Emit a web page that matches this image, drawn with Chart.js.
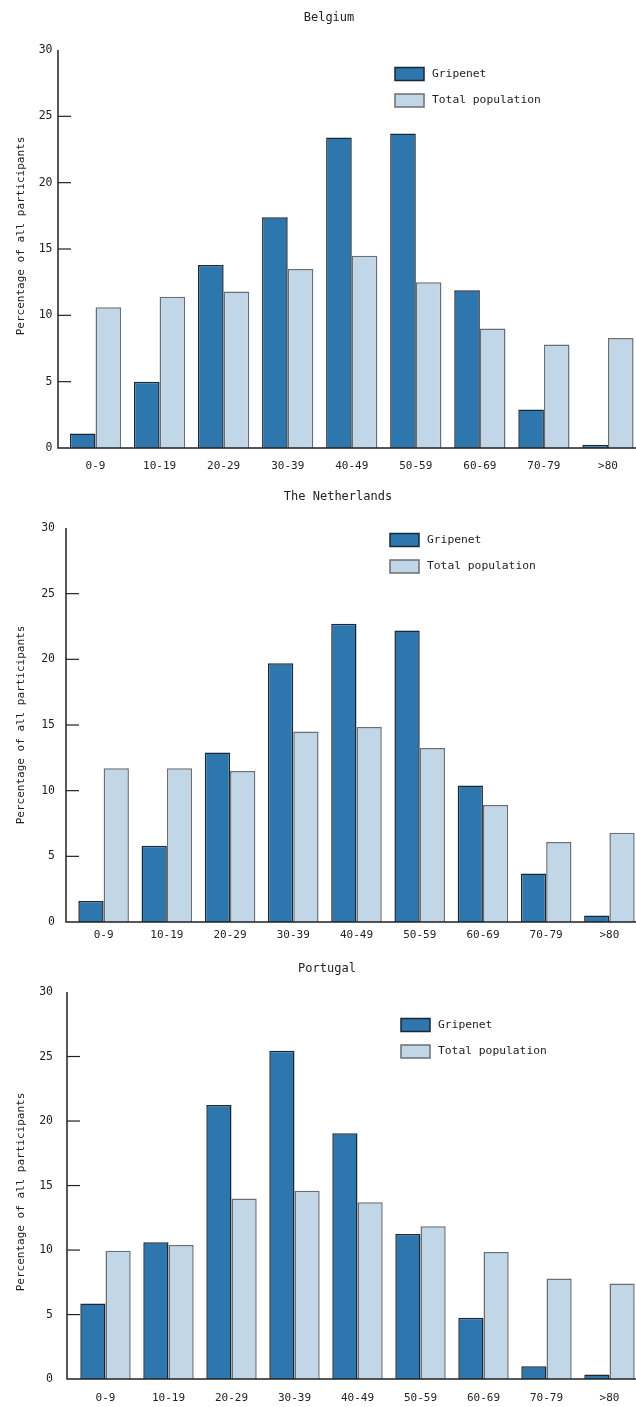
<!DOCTYPE html>
<html>
<head>
<meta charset="utf-8">
<script src="https://cdn.jsdelivr.net/npm/chart.js@4"></script>
<style>
  html, body { margin: 0; padding: 0; background: #fff; overflow: hidden; }
  #page { position: relative; width: 636px; height: 1407px; overflow: hidden; }
  .box { position: absolute; left: 0; }
</style>
</head>
<body>
<div id="page">
  <div class="box" style="top:0"><canvas id="chartBelgium"></canvas></div>
  <div class="box" style="top:476px"><canvas id="chartNetherlands"></canvas></div>
  <div class="box" style="top:952px"><canvas id="chartPortugal"></canvas></div>
</div>
<script>
// data
const ageGroups = ['0-9', '10-19', '20-29', '30-39', '40-49', '50-59', '60-69', '70-79', '>80'];
const seriesNames = ['Gripenet', 'Total population'];
const yMax = 30;
const yStep = 5;

const belgiumGripenet = [1.1, 5.0, 13.8, 17.4, 23.4, 23.7, 11.9, 2.9, 0.25];
const belgiumTotal = [10.6, 11.4, 11.8, 13.5, 14.5, 12.5, 9.0, 7.8, 8.3];

const netherlandsGripenet = [1.6, 5.8, 12.9, 19.7, 22.7, 22.2, 10.4, 3.7, 0.5];
const netherlandsTotal = [11.7, 11.7, 11.5, 14.5, 14.85, 13.25, 8.9, 6.1, 6.8];

const portugalGripenet = [5.85, 10.6, 21.25, 25.45, 19.05, 11.25, 4.75, 1.0, 0.35];
const portugalTotal = [9.95, 10.4, 14.0, 14.6, 13.7, 11.85, 9.85, 7.8, 7.4];

const FONT = "'DejaVu Sans Mono', monospace";
const INK = '#222';

// axes, title, legend and y title drawn on the canvas
const framePlugin = {
    id: 'frame',
    afterDatasetsDraw(chart) {
        const o = chart.options.plugins.frame;
        const { ctx, chartArea } = chart;
        const y = chart.scales.y;
        const ax = chartArea.left - o.axisGap;
        const y0 = y.getPixelForValue(0);
        const yTop = y.getPixelForValue(yMax);

        ctx.save();
        ctx.strokeStyle = INK;
        ctx.lineWidth = 1.5;
        ctx.beginPath();
        ctx.moveTo(ax, yTop);
        ctx.lineTo(ax, y0);
        ctx.lineTo(chartArea.right + 10, y0);
        ctx.stroke();

        ctx.lineWidth = 1.2;
        y.ticks.forEach(t => {
            if (t.value <= 0 || t.value >= yMax) return;
            const py = y.getPixelForValue(t.value);
            ctx.beginPath();
            ctx.moveTo(ax, py);
            ctx.lineTo(ax + 13, py);
            ctx.stroke();
        });
        ctx.restore();
    },
    afterDraw(chart) {
        const o = chart.options.plugins.frame;
        const { ctx } = chart;
        ctx.save();
        ctx.fillStyle = INK;
        ctx.textBaseline = 'middle';

        // title
        ctx.font = '12px ' + FONT;
        ctx.textAlign = 'center';
        ctx.fillText(o.title, o.titleX, o.titleY);

        // y axis title
        ctx.font = '11px ' + FONT;
        ctx.save();
        ctx.translate(o.yTitleX, o.yTitleY);
        ctx.rotate(-Math.PI / 2);
        ctx.fillText('Percentage of all participants', 0, 0);
        ctx.restore();

        // legend
        ctx.font = '11.3px ' + FONT;
        ctx.textAlign = 'left';
        chart.data.datasets.forEach((ds, i) => {
            const cy = o.legendY + i * 26.5;
            ctx.fillStyle = ds.backgroundColor;
            ctx.fillRect(o.legendX, cy - 6.5, 29, 13);
            ctx.strokeStyle = ds.borderColor;
            ctx.lineWidth = 1.5;
            ctx.strokeRect(o.legendX, cy - 6.5, 29, 13);
            ctx.fillStyle = INK;
            ctx.fillText(ds.label, o.legendX + 37, cy);
        });
        ctx.restore();
    }
};

function drawCountry(canvasId, gripenet, total, f) {
    const canvas = document.getElementById(canvasId);
    canvas.width = f.width;
    canvas.height = f.height;
    canvas.style.width = f.width + 'px';
    canvas.style.height = f.height + 'px';

    return new Chart(canvas.getContext('2d'), {
        type: 'bar',
        data: {
            labels: ageGroups,
            datasets: [{
                label: seriesNames[0],
                data: gripenet,
                backgroundColor: '#2d76ae',
                borderColor: '#1b2733',
                borderWidth: 1.5,
                borderSkipped: 'bottom'
            }, {
                label: seriesNames[1],
                data: total,
                backgroundColor: '#c1d7e7',
                borderColor: '#6b6e72',
                borderWidth: 1.5,
                borderSkipped: 'bottom'
            }]
        },
        plugins: [framePlugin],
        options: {
            responsive: false,
            animation: false,
            devicePixelRatio: 1,
            layout: {
                padding: { top: f.top, left: 0, right: 0, bottom: f.height - f.bottom - f.xHeight }
            },
            datasets: {
                bar: { categoryPercentage: 0.8, barPercentage: 1.0 }
            },
            scales: {
                x: {
                    offset: true,
                    grid: { display: false, drawTicks: false },
                    border: { display: false },
                    ticks: {
                        color: INK,
                        font: { family: FONT, size: 11 },
                        padding: f.xPad,
                        maxRotation: 0,
                        autoSkip: false
                    },
                    afterFit(scale) { scale.height = f.xHeight; }
                },
                y: {
                    min: 0,
                    max: yMax,
                    grid: { display: false, drawTicks: false },
                    border: { display: false },
                    ticks: {
                        stepSize: yStep,
                        color: INK,
                        font: { family: FONT, size: 11.5 },
                        padding: f.yPad
                    },
                    afterFit(scale) { scale.width = f.left; }
                }
            },
            plugins: {
                legend: { display: false },
                tooltip: { enabled: false },
                frame: f
            }
        }
    });
}

drawCountry('chartBelgium', belgiumGripenet, belgiumTotal, {
    title: 'Belgium', titleX: 329, titleY: 18,
    width: 640, height: 476, left: 63.5, top: 50, bottom: 448, xHeight: 28,
    xPad: 12, yPad: 11, axisGap: 5.5,
    yTitleX: 21, yTitleY: 236,
    legendX: 395, legendY: 74
});

drawCountry('chartNetherlands', netherlandsGripenet, netherlandsTotal, {
    title: 'The Netherlands', titleX: 338, titleY: 21,
    width: 641, height: 476, left: 72, top: 52, bottom: 446, xHeight: 28,
    xPad: 7, yPad: 17, axisGap: 6,
    yTitleX: 21, yTitleY: 249,
    legendX: 390, legendY: 64
});

drawCountry('chartPortugal', portugalGripenet, portugalTotal, {
    title: 'Portugal', titleX: 327, titleY: 17,
    width: 641, height: 455, left: 74, top: 40, bottom: 432, xHeight: 23,
    xPad: 12, yPad: 21, axisGap: 7,
    yTitleX: 21, yTitleY: 240,
    legendX: 401, legendY: 73
});
</script>
</body>
</html>
